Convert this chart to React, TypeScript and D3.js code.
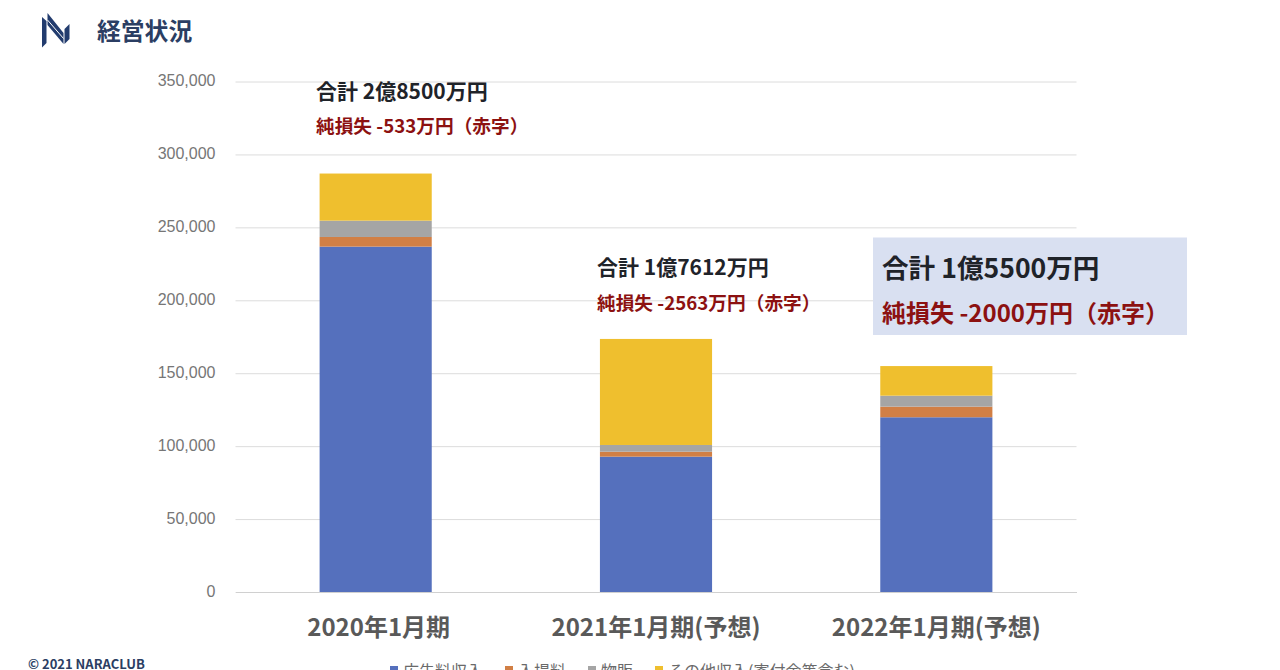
import { useRef, useEffect } from 'react'
import * as d3 from 'd3'

const periods = ['2020年1月期', '2021年1月期(予想)', '2022年1月期(予想)']
const seriesNames = ['広告料収入', '入場料', '物販', 'その他収入(寄付金等含む)']
const adRevenue = [236800, 92800, 119800]
const admission = [6600, 3400, 7300]
const merchandise = [11200, 4600, 7500]
const otherRevenue = [32300, 72700, 20300]
const seriesColors = ['#5570bd', '#d17f45', '#a5a5a5', '#efbf2e']
const yTicks = [0, 50000, 100000, 150000, 200000, 250000, 300000, 350000]
const totalLabels = ['合計 2億8500万円', '合計 1億7612万円', '合計 1億5500万円']
const lossLabels = ['純損失 -533万円（赤字）', '純損失 -2563万円（赤字）', '純損失 -2000万円（赤字）']

const JP = '"Noto Sans CJK JP", "Noto Sans", sans-serif'

export default function App() {
  const svgRef = useRef<SVGSVGElement>(null)

  useEffect(() => {
    if (!svgRef.current) return
    const svg = d3.select(svgRef.current)
    svg.selectAll('*').remove()

    const margin = { top: 81.5, left: 235.5, right: 203.5, bottom: 78 }
    const innerW = 1280 - margin.left - margin.right
    const innerH = 670 - margin.top - margin.bottom

    svg.append('rect').attr('width', 1280).attr('height', 670).attr('fill', '#fff')

    const x = d3.scaleBand<string>().domain(periods).range([0, innerW]).paddingInner(0.6).paddingOuter(0.3)
    const y = d3.scaleLinear().domain([0, 350000]).range([innerH, 0])

    const g = svg.append('g').attr('transform', `translate(${margin.left},${margin.top})`)

    // Gridlines and value labels
    g.append('g')
      .call(d3.axisLeft(y).tickValues(yTicks).tickFormat(d3.format(',') as any).tickSize(-innerW).tickPadding(20))
      .call((a) => a.select('.domain').remove())
      .call((a) => a.selectAll('.tick line').attr('stroke', '#dcdcdc').attr('stroke-width', 1))
      .call((a) =>
        a.selectAll('.tick text')
          .attr('fill', '#767676')
          .attr('font-size', 16)
          .attr('dy', '0.28em')
          .attr('font-family', '"Liberation Sans", sans-serif'),
      )

    // Stacked bars
    const rows = periods.map((p, i) => ({
      period: p,
      [seriesNames[0]]: adRevenue[i],
      [seriesNames[1]]: admission[i],
      [seriesNames[2]]: merchandise[i],
      [seriesNames[3]]: otherRevenue[i],
    }))
    const series = d3.stack<any>().keys(seriesNames)(rows)

    g.selectAll('.layer')
      .data(series)
      .join('g')
      .attr('class', 'layer')
      .attr('fill', (_, i) => seriesColors[i])
      .selectAll('rect')
      .data((d) => d)
      .join('rect')
      .attr('x', (d) => x(d.data.period)!)
      .attr('width', x.bandwidth())
      .attr('y', (d) => y(d[1]))
      .attr('height', (d) => y(d[0]) - y(d[1]))

    // Category labels; the first one sits a little right of its bar in the source
    g.append('g')
      .attr('transform', `translate(0,${innerH})`)
      .call(d3.axisBottom(x).tickSize(0).tickPadding(27))
      .call((a) => a.select('.domain').attr('stroke', '#d0d0d0'))
      .call((a) =>
        a.selectAll('.tick text')
          .attr('fill', '#595959')
          .attr('font-size', 24)
          .attr('font-weight', 700)
          .attr('dx', (_, i) => (i === 0 ? 3 : 0))
          .attr('font-family', JP),
      )

    // Highlight box behind the last annotation
    svg.append('rect')
      .attr('x', 873).attr('y', 237.5)
      .attr('width', 314).attr('height', 97.5)
      .attr('fill', '#d9e0f1')

    // Annotations
    const notes = [
      { tx: 316, ty: 99, ly: 133, ts: 21, ls: 18.7 },
      { tx: 597, ty: 275, ly: 310, ts: 21, ls: 18.7 },
      { tx: 882, ty: 278, ly: 322, ts: 26.6, ls: 24 },
    ]
    notes.forEach((n, i) => {
      svg.append('text')
        .attr('x', n.tx).attr('y', n.ty)
        .attr('font-family', JP).attr('font-weight', 700).attr('font-size', n.ts)
        .attr('fill', '#1f2329')
        .text(totalLabels[i])
      svg.append('text')
        .attr('x', n.tx).attr('y', n.ly)
        .attr('font-family', JP).attr('font-weight', 700).attr('font-size', n.ls)
        .attr('fill', '#8c1111')
        .text(lossLabels[i])
    })

    // Legend, cut off by the bottom edge in the source image
    const legendX = [390, 505, 588, 655]
    const legend = svg.append('g').selectAll('g').data(seriesNames).join('g')
      .attr('transform', (_, i) => `translate(${legendX[i]},0)`)
    legend.append('rect')
      .attr('y', 666).attr('width', 8).attr('height', 8)
      .attr('fill', (_, i) => seriesColors[i])
    legend.append('text')
      .attr('x', 13).attr('y', 677)
      .attr('font-family', JP).attr('font-size', 16).attr('fill', '#6a6a6a')
      .text((d) => d)

    // Title and logo
    svg.append('text')
      .attr('x', 97).attr('y', 40)
      .attr('font-family', JP).attr('font-weight', 700).attr('font-size', 23.8)
      .attr('fill', '#2b3e63')
      .text('経営状況')

    const logo = svg.append('g').attr('fill', '#223c6e')
    logo.append('path').attr('d', 'M42 17 L46.5 21 L46.5 43 L42 47.5 Z')
    logo.append('path').attr('d', 'M47.5 13 L63.5 33 L63.5 44 L47.5 25 Z')
    logo.append('path').attr('d', 'M64.5 44 L69.5 39 L69.5 24 L64.5 29 Z')
    svg.append('line')
      .attr('x1', 47.5).attr('y1', 20).attr('x2', 63.5).attr('y2', 38.5)
      .attr('stroke', '#fff').attr('stroke-width', 1)

    svg.append('text')
      .attr('x', 28).attr('y', 669)
      .attr('font-family', JP).attr('font-weight', 700).attr('font-size', 13)
      .attr('fill', '#2b3e63')
      .text('© 2021 NARACLUB')
  }, [])

  return (
    <div style={{ position: 'fixed', left: 0, top: 0, width: 1280, height: 670, overflow: 'hidden' }}>
      <svg ref={svgRef} width={1280} height={670} style={{ display: 'block' }} />
    </div>
  )
}
